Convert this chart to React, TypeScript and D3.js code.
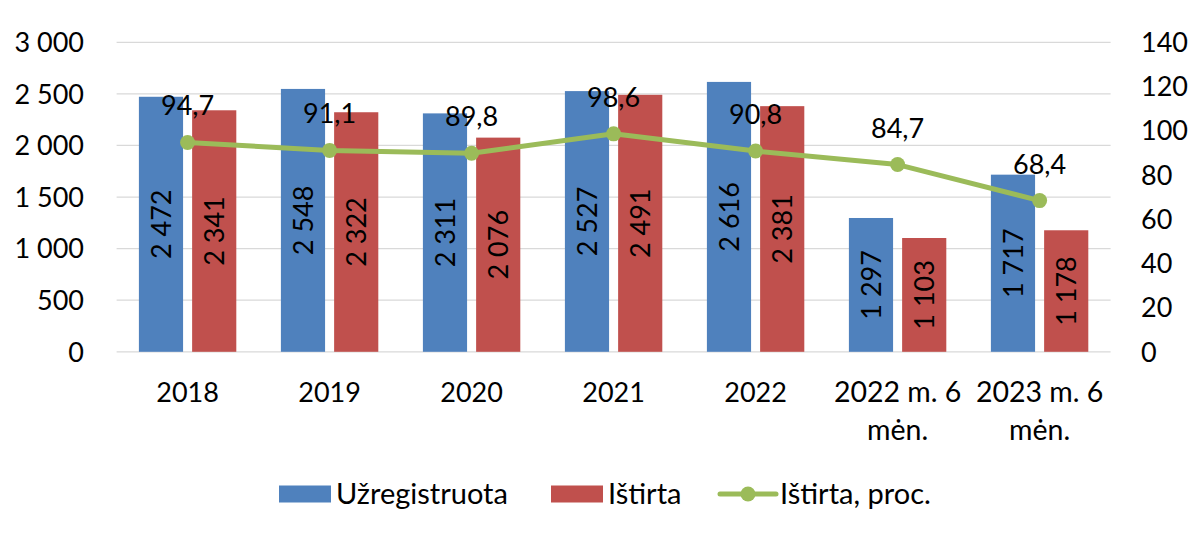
import React, { useEffect, useRef } from 'react';
import * as d3 from 'd3';

const categories = ['2018', '2019', '2020', '2021', '2022', '2022 m. 6|mėn.', '2023 m. 6|mėn.'];
const registered = [2472, 2548, 2311, 2527, 2616, 1297, 1717];
const investigated = [2341, 2322, 2076, 2491, 2381, 1103, 1178];
const percent = [94.7, 91.1, 89.8, 98.6, 90.8, 84.7, 68.4];
const leftTicks = [0, 500, 1000, 1500, 2000, 2500, 3000];
const rightTicks = [0, 20, 40, 60, 80, 100, 120, 140];
const seriesNames = ['Užregistruota', 'Ištirta', 'Ištirta, proc.'];

const BLUE = '#4F81BD';
const RED = '#C0504D';
const GREEN = '#9BBB59';
const FONT = 'Lato, "Open Sans", sans-serif';

const fmt = (v: number) => {
  const s = String(Math.round(v));
  return s.length > 3 ? s.slice(0, s.length - 3) + ' ' + s.slice(-3) : s;
};

export default function App() {
  const svgRef = useRef<SVGSVGElement>(null);

  useEffect(() => {
    if (!svgRef.current) return;
    const svg = d3.select(svgRef.current);
    svg.selectAll('*').remove();

    const left = 116.6, right = 1110.6, top = 42.3, bottom = 351.8;

    const x = d3.scaleBand().domain(categories).range([left, right]).padding(0);
    const x1 = d3.scaleBand().domain(['u', 'i']).range([-48.7, 48.7]).paddingInner(0.17);
    const y = d3.scaleLinear().domain([0, 3000]).range([bottom, top]);
    const y2 = d3.scaleLinear().domain([0, 140]).range([bottom, top]);

    // grid
    svg.append('g')
      .selectAll('line')
      .data(leftTicks)
      .enter()
      .append('line')
      .attr('x1', left)
      .attr('x2', right)
      .attr('y1', d => y(d))
      .attr('y2', d => y(d))
      .attr('stroke', '#D9D9D9')
      .attr('stroke-width', 1.3);

    // left axis labels
    svg.append('g')
      .selectAll('text')
      .data(leftTicks)
      .enter()
      .append('text')
      .attr('x', 84)
      .attr('y', d => y(d))
      .attr('dy', '0.36em')
      .attr('text-anchor', 'end')
      .style('font-family', FONT)
      .style('font-size', '27px')
      .text(d => fmt(d));

    // right axis labels
    svg.append('g')
      .selectAll('text')
      .data(rightTicks)
      .enter()
      .append('text')
      .attr('x', 1141)
      .attr('y', d => y2(d))
      .attr('dy', '0.36em')
      .style('font-family', FONT)
      .style('font-size', '27px')
      .text(d => String(d));

    // x labels (two lines where needed)
    const xl = svg.append('g')
      .selectAll('text')
      .data(categories)
      .enter()
      .append('text')
      .attr('x', d => (x(d) || 0) + x.bandwidth() / 2)
      .attr('y', 402)
      .attr('text-anchor', 'middle')
      .style('font-family', FONT)
      .style('font-size', '27px');
    xl.each(function (d) {
      const parts = d.split('|');
      const t = d3.select(this);
      parts.forEach((p, i) => {
        t.append('tspan')
          .attr('x', (x(d) || 0) + x.bandwidth() / 2)
          .attr('dy', i === 0 ? 0 : 38)
          .style('font-size', parts.length > 1 ? '28.5px' : null)
          .text(p);
      });
    });

    // bars
    const series = [
      { key: 'u', values: registered, color: BLUE },
      { key: 'i', values: investigated, color: RED },
    ];
    series.forEach(s => {
      const g = svg.append('g');
      g.selectAll('rect')
        .data(s.values)
        .enter()
        .append('rect')
        .attr('x', (_, i) => (x(categories[i]) || 0) + x.bandwidth() / 2 + (x1(s.key) || 0))
        .attr('y', d => y(d))
        .attr('width', x1.bandwidth())
        .attr('height', d => bottom - y(d))
        .attr('fill', s.color);
      g.selectAll('text')
        .data(s.values)
        .enter()
        .append('text')
        .attr('transform', (d, i) => {
          const cx = (x(categories[i]) || 0) + x.bandwidth() / 2 + (x1(s.key) || 0) + x1.bandwidth() / 2;
          const cy = (y(d) + bottom) / 2;
          return `translate(${cx},${cy}) rotate(-90)`;
        })
        .attr('text-anchor', 'middle')
        .attr('dy', '0.36em')
        .style('font-family', FONT)
        .style('font-size', '27px')
        .text(d => fmt(d));
    });

    // line
    const cxOf = (i: number) => (x(categories[i]) || 0) + x.bandwidth() / 2;
    const line = d3.line<number>()
      .x((_, i) => cxOf(i))
      .y(d => y2(d));
    svg.append('path')
      .datum(percent)
      .attr('d', line)
      .attr('fill', 'none')
      .attr('stroke', GREEN)
      .attr('stroke-width', 5)
      .attr('stroke-linejoin', 'round');
    svg.append('g')
      .selectAll('circle')
      .data(percent)
      .enter()
      .append('circle')
      .attr('cx', (_, i) => cxOf(i))
      .attr('cy', d => y2(d))
      .attr('r', 7.5)
      .attr('fill', GREEN);
    svg.append('g')
      .selectAll('text')
      .data(percent)
      .enter()
      .append('text')
      .attr('x', (_, i) => cxOf(i))
      .attr('y', d => y2(d) - 27)
      .attr('text-anchor', 'middle')
      .style('font-family', FONT)
      .style('font-size', '27px')
      .text(d => d.toFixed(1).replace('.', ','));

    // legend
    const ly = 494;
    const lg = svg.append('g').style('font-family', FONT).style('font-size', '29px');
    lg.append('rect').attr('x', 279).attr('y', ly - 8.5).attr('width', 52).attr('height', 17).attr('fill', BLUE);
    lg.append('text').attr('x', 336).attr('y', ly).attr('dy', '0.36em').text(seriesNames[0]);
    lg.append('rect').attr('x', 551).attr('y', ly - 8.5).attr('width', 52).attr('height', 17).attr('fill', RED);
    lg.append('text').attr('x', 608).attr('y', ly).attr('dy', '0.36em').text(seriesNames[1]);
    lg.append('line').attr('x1', 720).attr('x2', 776).attr('y1', ly).attr('y2', ly)
      .attr('stroke', GREEN).attr('stroke-width', 5).attr('stroke-linecap', 'round');
    lg.append('circle').attr('cx', 748).attr('cy', ly).attr('r', 7.5).attr('fill', GREEN);
    lg.append('text').attr('x', 780).attr('y', ly).attr('dy', '0.36em').text(seriesNames[2]);
  }, []);

  return (
    <svg
      ref={svgRef}
      width={1197}
      height={535}
      style={{ position: 'absolute', left: 0, top: 0, background: '#fff' }}
    />
  );
}
